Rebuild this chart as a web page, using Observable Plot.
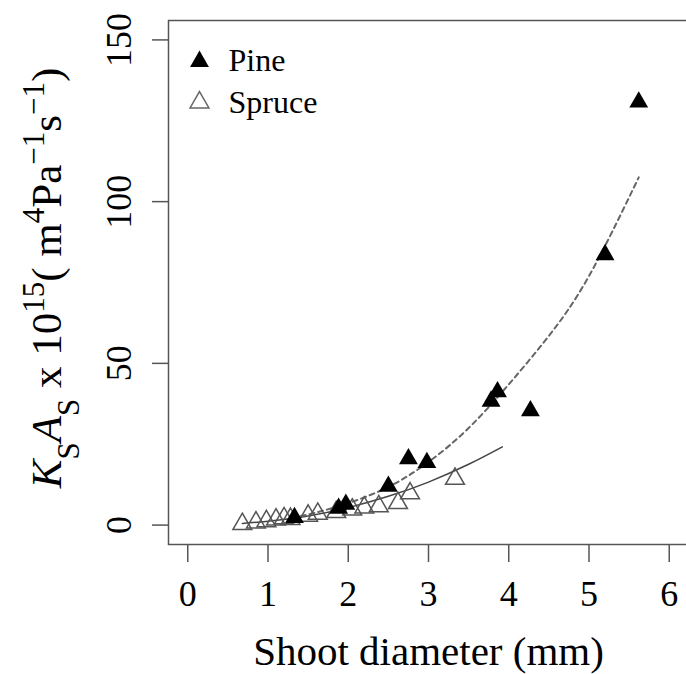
<!DOCTYPE html>
<html>
<head>
<meta charset="utf-8">
<script src="https://cdn.jsdelivr.net/npm/d3@7"></script>
<script src="https://cdn.jsdelivr.net/npm/@observablehq/plot@0.6"></script>
<style>
  html, body { margin: 0; padding: 0; background: #fff; overflow: hidden; }
  #chart { width: 686px; height: 674px; overflow: hidden; }
</style>
</head>
<body>
<div id="chart"></div>
<script>
// ---- data ----
const pineDiameter = [1.33, 1.88, 1.97, 2.50, 2.75, 2.98, 3.78, 3.86, 4.27, 5.20, 5.62];
const pineKsAs     = [2.3, 5.2, 6.4, 12.0, 20.5, 19.3, 38.3, 41.2, 35.3, 83.6, 130.8];
const spruceDiameter = [0.68, 0.85, 0.98, 1.10, 1.20, 1.28, 1.50, 1.62, 1.85, 2.05, 2.20, 2.38, 2.62, 2.77, 3.33];
const spruceKsAs     = [0.3, 0.8, 1.2, 1.7, 2.1, 1.9, 2.9, 3.5, 4.0, 4.8, 5.4, 5.8, 6.8, 9.8, 14.3];
// fitted curves
const pineFitDiameter = [1.3, 1.6, 2.0, 2.5, 3.0, 3.5, 4.0, 4.5, 5.0, 5.62];
const pineFitKsAs     = [2.2, 3.9, 6.8, 11.8, 19.5, 30.0, 43.5, 58.5, 77.0, 107.5];
const spruceFitDiameter = [0.68, 1.0, 1.5, 2.0, 2.5, 3.0, 3.5, 3.92];
const spruceFitKsAs     = [0.5, 1.2, 2.8, 5.4, 8.9, 13.3, 18.8, 24.2];
const xTicks = [0, 1, 2, 3, 4, 5, 6];
const yTicks = [0, 50, 100, 150];
const seriesNames = ["Pine", "Spruce"];
const xTitle = "Shoot diameter (mm)";

const pine = pineDiameter.map((d, i) => ({d, k: pineKsAs[i]}));
const spruce = spruceDiameter.map((d, i) => ({d, k: spruceKsAs[i]}));
const pineFit = pineFitDiameter.map((d, i) => ({d, k: pineFitKsAs[i]}));
const spruceFit = spruceFitDiameter.map((d, i) => ({d, k: spruceFitKsAs[i]}));

const FONT = "'Liberation Serif', 'Times New Roman', serif";
const R = 7;

const chart = Plot.plot({
  width: 686,
  height: 674,
  marginLeft: 168,
  marginRight: -2,
  marginTop: 20,
  marginBottom: 130,
  style: {fontFamily: FONT, color: "black", background: "white", overflow: "hidden"},
  x: {domain: [-0.24, 6.24]},
  y: {domain: [-6, 156]},
  marks: [
    Plot.frame({stroke: "#555", strokeWidth: 1.5}),
    Plot.axisX({ticks: xTicks, tickFormat: d3.format("d"), tickSize: 18, tickPadding: 18, fontSize: 36, stroke: "#555", strokeWidth: 1.5, fill: "black", label: null}),
    Plot.axisY({ticks: yTicks, tickFormat: d3.format("d"), tickSize: 16, tickPadding: 22, tickRotate: -90, fontSize: 36, stroke: "#555", strokeWidth: 1.5, fill: "black", label: null}),
    Plot.line(spruceFit, {x: "d", y: "k", curve: "natural", stroke: "#444", strokeWidth: 1.5}),
    Plot.line(pineFit, {x: "d", y: "k", curve: "natural", stroke: "#666", strokeWidth: 2, strokeDasharray: "5,4"}),
    Plot.dot(spruce, {x: "d", y: "k", symbol: "triangle", r: R, fill: "none", stroke: "#555", strokeWidth: 1.5}),
    Plot.dot(pine, {x: "d", y: "k", symbol: "triangle", r: R, fill: "black", stroke: "none"}),
    // legend
    Plot.dot([seriesNames[0]], {frameAnchor: "top-left", dx: 31, dy: 41, symbol: "triangle", r: R, fill: "black"}),
    Plot.dot([seriesNames[1]], {frameAnchor: "top-left", dx: 31, dy: 82, symbol: "triangle", r: R, fill: "none", stroke: "#666", strokeWidth: 1.5}),
    Plot.text([seriesNames[0]], {frameAnchor: "top-left", dx: 60, dy: 40, lineAnchor: "middle", text: d => d, textAnchor: "start", fontSize: 32, fill: "black"}),
    Plot.text([seriesNames[1]], {frameAnchor: "top-left", dx: 60, dy: 82, lineAnchor: "middle", text: d => d, textAnchor: "start", fontSize: 32, fill: "black"}),
    // x title
    Plot.text([xTitle], {frameAnchor: "bottom", dy: 120, lineAnchor: "bottom", text: d => d, fontSize: 41, fill: "black"})
  ]
});
document.getElementById("chart").appendChild(chart);

// y-axis title with sub/superscripts
const svg = d3.select(chart);
const parts = [
  {t: "K", style: "italic"},
  {t: "S", shift: "sub"},
  {t: "A", style: "italic"},
  {t: "S", shift: "sub"},
  {t: " x 10"},
  {t: "15", shift: "super"},
  {t: "( m"},
  {t: "4", shift: "super"},
  {t: "Pa"},
  {t: "\u22121", shift: "super"},
  {t: "s"},
  {t: "\u22121", shift: "super"},
  {t: ")"}
];
const yTitle = svg.append("text")
  .attr("transform", "translate(61,278) rotate(-90)")
  .attr("text-anchor", "middle")
  .attr("fill", "black")
  .style("font-family", FONT)
  .style("font-size", "43px");
parts.forEach(p => {
  const ts = yTitle.append("tspan").text(p.t);
  if (p.style) ts.style("font-style", p.style);
  if (p.shift) {
    ts.attr("baseline-shift", p.shift).style("font-size", "31px");
  }
});
</script>
</body>
</html>
